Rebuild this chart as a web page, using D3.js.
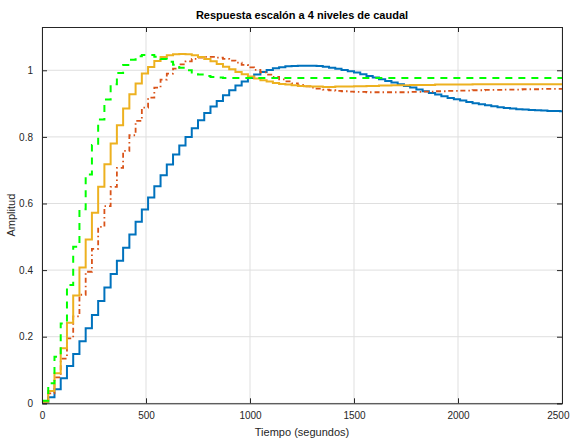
<!DOCTYPE html>
<html>
<head>
<meta charset="utf-8">
<script src="https://d3js.org/d3.v7.min.js"></script>
<style>
  body { margin: 0; background: #fff; }
  svg { font-family: "Liberation Sans", Arial, sans-serif; }
</style>
</head>
<body>
<script>
// Sample period of the stairs (s)
const Ts = 30;
const tEnd = 2500;

// Step responses, one value per sample (t = 0, 30, 60, ...)
const blue = [
  0, 0.018, 0.042, 0.075, 0.112, 0.148, 0.186, 0.225, 0.265, 0.307,
  0.348, 0.388, 0.428, 0.467, 0.507, 0.545, 0.582, 0.618, 0.652, 0.685,
  0.717, 0.747, 0.774, 0.800, 0.826, 0.850, 0.872, 0.891, 0.908, 0.925,
  0.940, 0.954, 0.966, 0.977, 0.987, 0.995, 1.001, 1.006, 1.009, 1.012,
  1.013, 1.014, 1.014, 1.014, 1.013, 1.011, 1.008, 1.005, 1.001, 0.997,
  0.993, 0.988, 0.983, 0.978, 0.973, 0.968, 0.963, 0.958, 0.953, 0.948,
  0.942, 0.937, 0.932, 0.927, 0.922, 0.917, 0.913, 0.909, 0.905, 0.901,
  0.898, 0.895, 0.892, 0.889, 0.887, 0.885, 0.883, 0.882, 0.881, 0.880,
  0.879, 0.878, 0.878, 0.877
];
const red = [
  0.005, 0.030, 0.078, 0.134, 0.195, 0.261, 0.326, 0.395, 0.464, 0.530,
  0.592, 0.650, 0.707, 0.758, 0.805, 0.848, 0.888, 0.918, 0.948, 0.972,
  0.990, 1.005, 1.018, 1.027, 1.034, 1.038, 1.040, 1.040, 1.038, 1.034,
  1.029, 1.023, 1.016, 1.009, 1.001, 0.994, 0.987, 0.980, 0.973, 0.967,
  0.961, 0.956, 0.952, 0.948, 0.945, 0.942, 0.940, 0.938, 0.937, 0.936,
  0.935, 0.935, 0.934, 0.934, 0.934, 0.934, 0.934, 0.934, 0.934, 0.935,
  0.935, 0.936, 0.936, 0.937, 0.937, 0.938, 0.938, 0.939, 0.939, 0.940,
  0.940, 0.941, 0.941, 0.941, 0.942, 0.942, 0.942, 0.943, 0.943, 0.943,
  0.944, 0.944, 0.944, 0.944
];
const orange = [
  0.005, 0.037, 0.090, 0.165, 0.242, 0.324, 0.408, 0.492, 0.572, 0.650,
  0.718, 0.780, 0.835, 0.885, 0.928, 0.960, 0.990, 1.010, 1.028, 1.040,
  1.045, 1.048, 1.049, 1.048, 1.045, 1.040, 1.034, 1.027, 1.019, 1.011,
  1.003, 0.995, 0.988, 0.981, 0.975, 0.970, 0.966, 0.962, 0.959, 0.957,
  0.955, 0.953, 0.952, 0.951, 0.951, 0.950, 0.950, 0.951, 0.951, 0.951,
  0.952, 0.952, 0.953, 0.953, 0.954, 0.954, 0.955, 0.955, 0.955, 0.956,
  0.956, 0.956, 0.956, 0.957, 0.957, 0.957, 0.957, 0.957, 0.957, 0.958,
  0.958, 0.958, 0.958, 0.958, 0.958, 0.958, 0.958, 0.958, 0.958, 0.958,
  0.958, 0.958, 0.958, 0.958
];
const green = [
  0.008, 0.060, 0.140, 0.240, 0.355, 0.470, 0.583, 0.687, 0.776, 0.852,
  0.912, 0.958, 0.992, 1.016, 1.032, 1.042, 1.046, 1.046, 1.041, 1.034,
  1.026, 1.017, 1.008, 1.000, 0.993, 0.987, 0.983, 0.980, 0.978, 0.977,
  0.977, 0.977, 0.977, 0.977, 0.977, 0.977, 0.977, 0.977, 0.977, 0.977,
  0.977, 0.977, 0.977, 0.977, 0.977, 0.977, 0.977, 0.977, 0.977, 0.977,
  0.977, 0.977, 0.977, 0.977, 0.977, 0.977, 0.977, 0.977, 0.977, 0.977,
  0.977, 0.977, 0.977, 0.977, 0.977, 0.977, 0.977, 0.977, 0.977, 0.977,
  0.977, 0.977, 0.977, 0.977, 0.977, 0.977, 0.977, 0.977, 0.977, 0.977,
  0.977, 0.977, 0.977, 0.977
];

const xTicks = [0, 500, 1000, 1500, 2000, 2500];
const yTicks = [0, 0.2, 0.4, 0.6, 0.8, 1];

const series = [
  { values: blue,   color: "#0072BD", dash: null,          width: 2 },
  { values: red,    color: "#D95319", dash: "5,3,1.5,3",   width: 1.8 },
  { values: orange, color: "#EDB120", dash: null,          width: 2 },
  { values: green,  color: "#00FF00", dash: "7,6",         width: 2 }
];

const W = 570, H = 439;
const mL = 42, mR = 562, mT = 27, mB = 403.3;
const ink = "#262626";

const x = d3.scaleLinear().domain([0, tEnd]).range([mL, mR]);
const y = d3.scaleLinear().domain([0, 1.13]).range([mB, mT]);

const svg = d3.select("body").append("svg")
  .attr("width", W).attr("height", H);

// grid
svg.append("g").selectAll("line").data(xTicks).join("line")
  .attr("x1", d => x(d)).attr("x2", d => x(d))
  .attr("y1", mT).attr("y2", mB)
  .attr("stroke", "#dfdfdf").attr("stroke-width", 1);
svg.append("g").selectAll("line").data(yTicks).join("line")
  .attr("x1", mL).attr("x2", mR)
  .attr("y1", d => y(d)).attr("y2", d => y(d))
  .attr("stroke", "#dfdfdf").attr("stroke-width", 1);

svg.append("clipPath").attr("id", "plot")
  .append("rect").attr("x", mL).attr("y", mT)
  .attr("width", mR - mL).attr("height", mB - mT);

const line = d3.line()
  .x(d => x(d[0])).y(d => y(d[1]))
  .curve(d3.curveStepAfter);

const lines = svg.append("g").attr("clip-path", "url(#plot)");
series.forEach(s => {
  const pts = s.values.map((v, i) => [i * Ts, v]);
  pts.push([tEnd, s.values[s.values.length - 1]]);
  lines.append("path")
    .attr("d", line(pts))
    .attr("fill", "none")
    .attr("stroke", s.color)
    .attr("stroke-width", s.width)
    .attr("stroke-dasharray", s.dash);
});

// axes (box with inward ticks on all sides)
const fmt = d => String(d);
const xAxis = d3.axisBottom(x).tickValues(xTicks).tickSize(-5).tickPadding(9).tickFormat(fmt);
const xTop = d3.axisTop(x).tickValues(xTicks).tickSize(-5).tickFormat("");
const yAxis = d3.axisLeft(y).tickValues(yTicks).tickSize(-5).tickPadding(9).tickFormat(fmt);
const yRight = d3.axisRight(y).tickValues(yTicks).tickSize(-5).tickFormat("");

function style(g) {
  g.select(".domain").attr("stroke", ink).attr("stroke-width", 1);
  g.selectAll(".tick line").attr("stroke", ink);
  g.selectAll(".tick text").attr("fill", ink).style("font-size", "10px")
    .style("font-family", "Liberation Sans, Arial, sans-serif");
}
const gx = svg.append("g").attr("transform", `translate(0,${mB})`).call(xAxis).call(style);
// keep the last x label inside the window
gx.selectAll(".tick text").filter(d => d === tEnd)
  .attr("text-anchor", "end").attr("x", W - mR - 1);
svg.append("g").attr("transform", `translate(0,${mT})`).call(xTop).call(style);
svg.append("g").attr("transform", `translate(${mL},0)`).call(yAxis).call(style);
svg.append("g").attr("transform", `translate(${mR},0)`).call(yRight).call(style);

// labels
svg.append("text")
  .attr("x", (mL + mR) / 2).attr("y", 19)
  .attr("text-anchor", "middle")
  .style("font-size", "11px").style("font-weight", "bold")
  .attr("fill", "#000")
  .text("Respuesta escalón a 4 niveles de caudal");

svg.append("text")
  .attr("x", (mL + mR) / 2).attr("y", 436)
  .attr("text-anchor", "middle")
  .style("font-size", "11px").attr("fill", ink)
  .text("Tiempo (segundos)");

svg.append("text")
  .attr("transform", `translate(15,${(mT + mB) / 2}) rotate(-90)`)
  .attr("text-anchor", "middle")
  .style("font-size", "11px").attr("fill", ink)
  .text("Amplitud");
</script>
</body>
</html>
